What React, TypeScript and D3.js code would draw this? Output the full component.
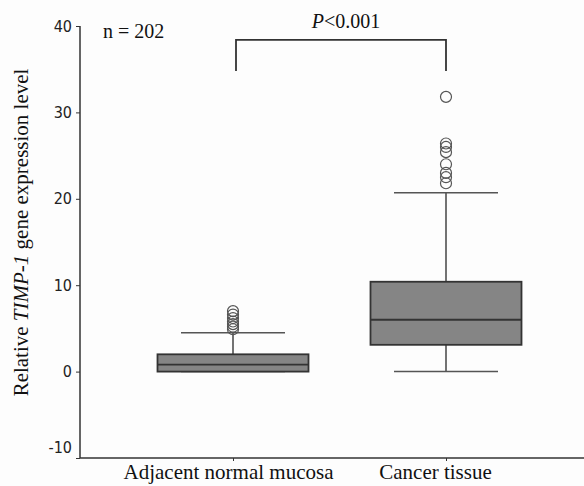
import { useEffect, useRef } from 'react'
import * as d3 from 'd3'

// groups and box statistics
const groups = ['Adjacent normal mucosa', 'Cancer tissue']
const lowerWhisker = [0, 0]
const q1 = [0, 3.1]
const median = [0.8, 6.0]
const q3 = [2.0, 10.4]
const upperWhisker = [4.5, 20.7]
const normalOutliers = [7.0, 6.6, 6.2, 5.8, 5.5, 5.2, 4.9]
const cancerOutliers = [31.8, 26.4, 26.0, 25.4, 24.0, 23.0, 22.5, 21.8]
const yTicks = [-10, 0, 10, 20, 30, 40]

export default function App() {
  const ref = useRef<SVGSVGElement>(null)

  useEffect(() => {
    const width = 584
    const height = 486
    const serif = '"Liberation Serif", "Times New Roman", serif'
    const svg = d3.select(ref.current)
    svg.selectAll('*').remove()

    const y = d3.scaleLinear().domain([-10, 40]).range([458, 26])
    const x = d3.scalePoint().domain(groups).range([233, 446])
    const boxW = 151
    const capW = 104
    const outliers = [normalOutliers, cancerOutliers]

    svg.append('rect').attr('width', width).attr('height', height).attr('fill', '#fdfdfd')

    // y axis
    const ya = svg.append('g').attr('transform', 'translate(80,0)')
      .call(d3.axisLeft(y).tickValues(yTicks).tickSize(4).tickPadding(4).tickFormat(d => String(d)))
    ya.select('.domain').attr('stroke', '#333').attr('stroke-width', 1.5).attr('d', `M0,${y(40)}V${y(-10)}`)
    ya.selectAll('.tick line').attr('stroke', '#333')
    ya.selectAll('.tick text')
      .attr('font-family', '"DejaVu Sans", sans-serif')
      .attr('font-stretch', 'condensed')
      .attr('font-size', 16).attr('fill', '#222')
      .attr('dy', (d: any) => (d === -10 ? '-0.35em' : '0.32em'))

    // x axis
    const xa = svg.append('g').attr('transform', `translate(0,${y(-10)})`)
      .call(d3.axisBottom(x).tickSize(3).tickPadding(3))
    xa.select('.domain').attr('stroke', '#333').attr('stroke-width', 1.5).attr('d', `M80,0H${width}`)
    xa.selectAll('.tick line').attr('stroke', '#333')
    xa.selectAll('.tick text')
      .attr('font-family', serif)
      .attr('font-size', 21).attr('fill', '#111')
      .attr('dx', (d: any) => (d === groups[0] ? -5 : -11))

    // boxes
    groups.forEach((g, i) => {
      const c = x(g)!
      const gg = svg.append('g')
      gg.append('line').attr('x1', c).attr('x2', c)
        .attr('y1', y(upperWhisker[i])).attr('y2', y(q3[i]))
        .attr('stroke', '#444').attr('stroke-width', 1.5)
      gg.append('line').attr('x1', c).attr('x2', c)
        .attr('y1', y(lowerWhisker[i])).attr('y2', y(q1[i]))
        .attr('stroke', '#444').attr('stroke-width', 1.5)
      ;[upperWhisker[i], lowerWhisker[i]].forEach(v => {
        gg.append('line').attr('x1', c - capW / 2).attr('x2', c + capW / 2)
          .attr('y1', y(v)).attr('y2', y(v))
          .attr('stroke', '#555').attr('stroke-width', 1.5)
      })
      gg.append('rect').attr('x', c - boxW / 2).attr('width', boxW)
        .attr('y', y(q3[i])).attr('height', y(q1[i]) - y(q3[i]))
        .attr('fill', '#858585').attr('stroke', '#333').attr('stroke-width', 1.8)
      gg.append('line').attr('x1', c - boxW / 2).attr('x2', c + boxW / 2)
        .attr('y1', y(median[i])).attr('y2', y(median[i]))
        .attr('stroke', '#333').attr('stroke-width', 1.8)
      gg.selectAll('circle').data(outliers[i]).join('circle')
        .attr('cx', c).attr('cy', d => y(d)).attr('r', 5.5)
        .attr('fill', 'none').attr('stroke', '#555').attr('stroke-width', 1.2)
    })

    // significance bracket
    const bx1 = x(groups[0])! + 3
    const bx2 = x(groups[1])!
    svg.append('path')
      .attr('d', `M${bx1},${y(34.8)}V${y(38.4)}H${bx2}V${y(34.8)}`)
      .attr('fill', 'none').attr('stroke', '#333').attr('stroke-width', 1.8)
    const p = svg.append('text').attr('x', 346).attr('y', 28)
      .attr('text-anchor', 'middle')
      .attr('font-family', serif)
      .attr('font-size', 20).attr('fill', '#111')
    p.append('tspan').attr('font-style', 'italic').text('P')
    p.append('tspan').text('<0.001')

    svg.append('text').attr('x', 103).attr('y', 38)
      .attr('font-family', serif)
      .attr('font-size', 20).attr('fill', '#111').text('n = 202')

    // y label
    const yl = svg.append('text')
      .attr('transform', `translate(28,${y(16.1)}) rotate(-90)`)
      .attr('text-anchor', 'middle')
      .attr('font-family', serif)
      .attr('font-size', 21).attr('fill', '#111')
    yl.append('tspan').text('Relative ')
    yl.append('tspan').attr('font-style', 'italic').text('TIMP-1')
    yl.append('tspan').text(' gene expression level')
  }, [])

  return (
    <svg ref={ref} width={584} height={486}
      style={{ position: 'absolute', left: 0, top: 0, display: 'block' }} />
  )
}
